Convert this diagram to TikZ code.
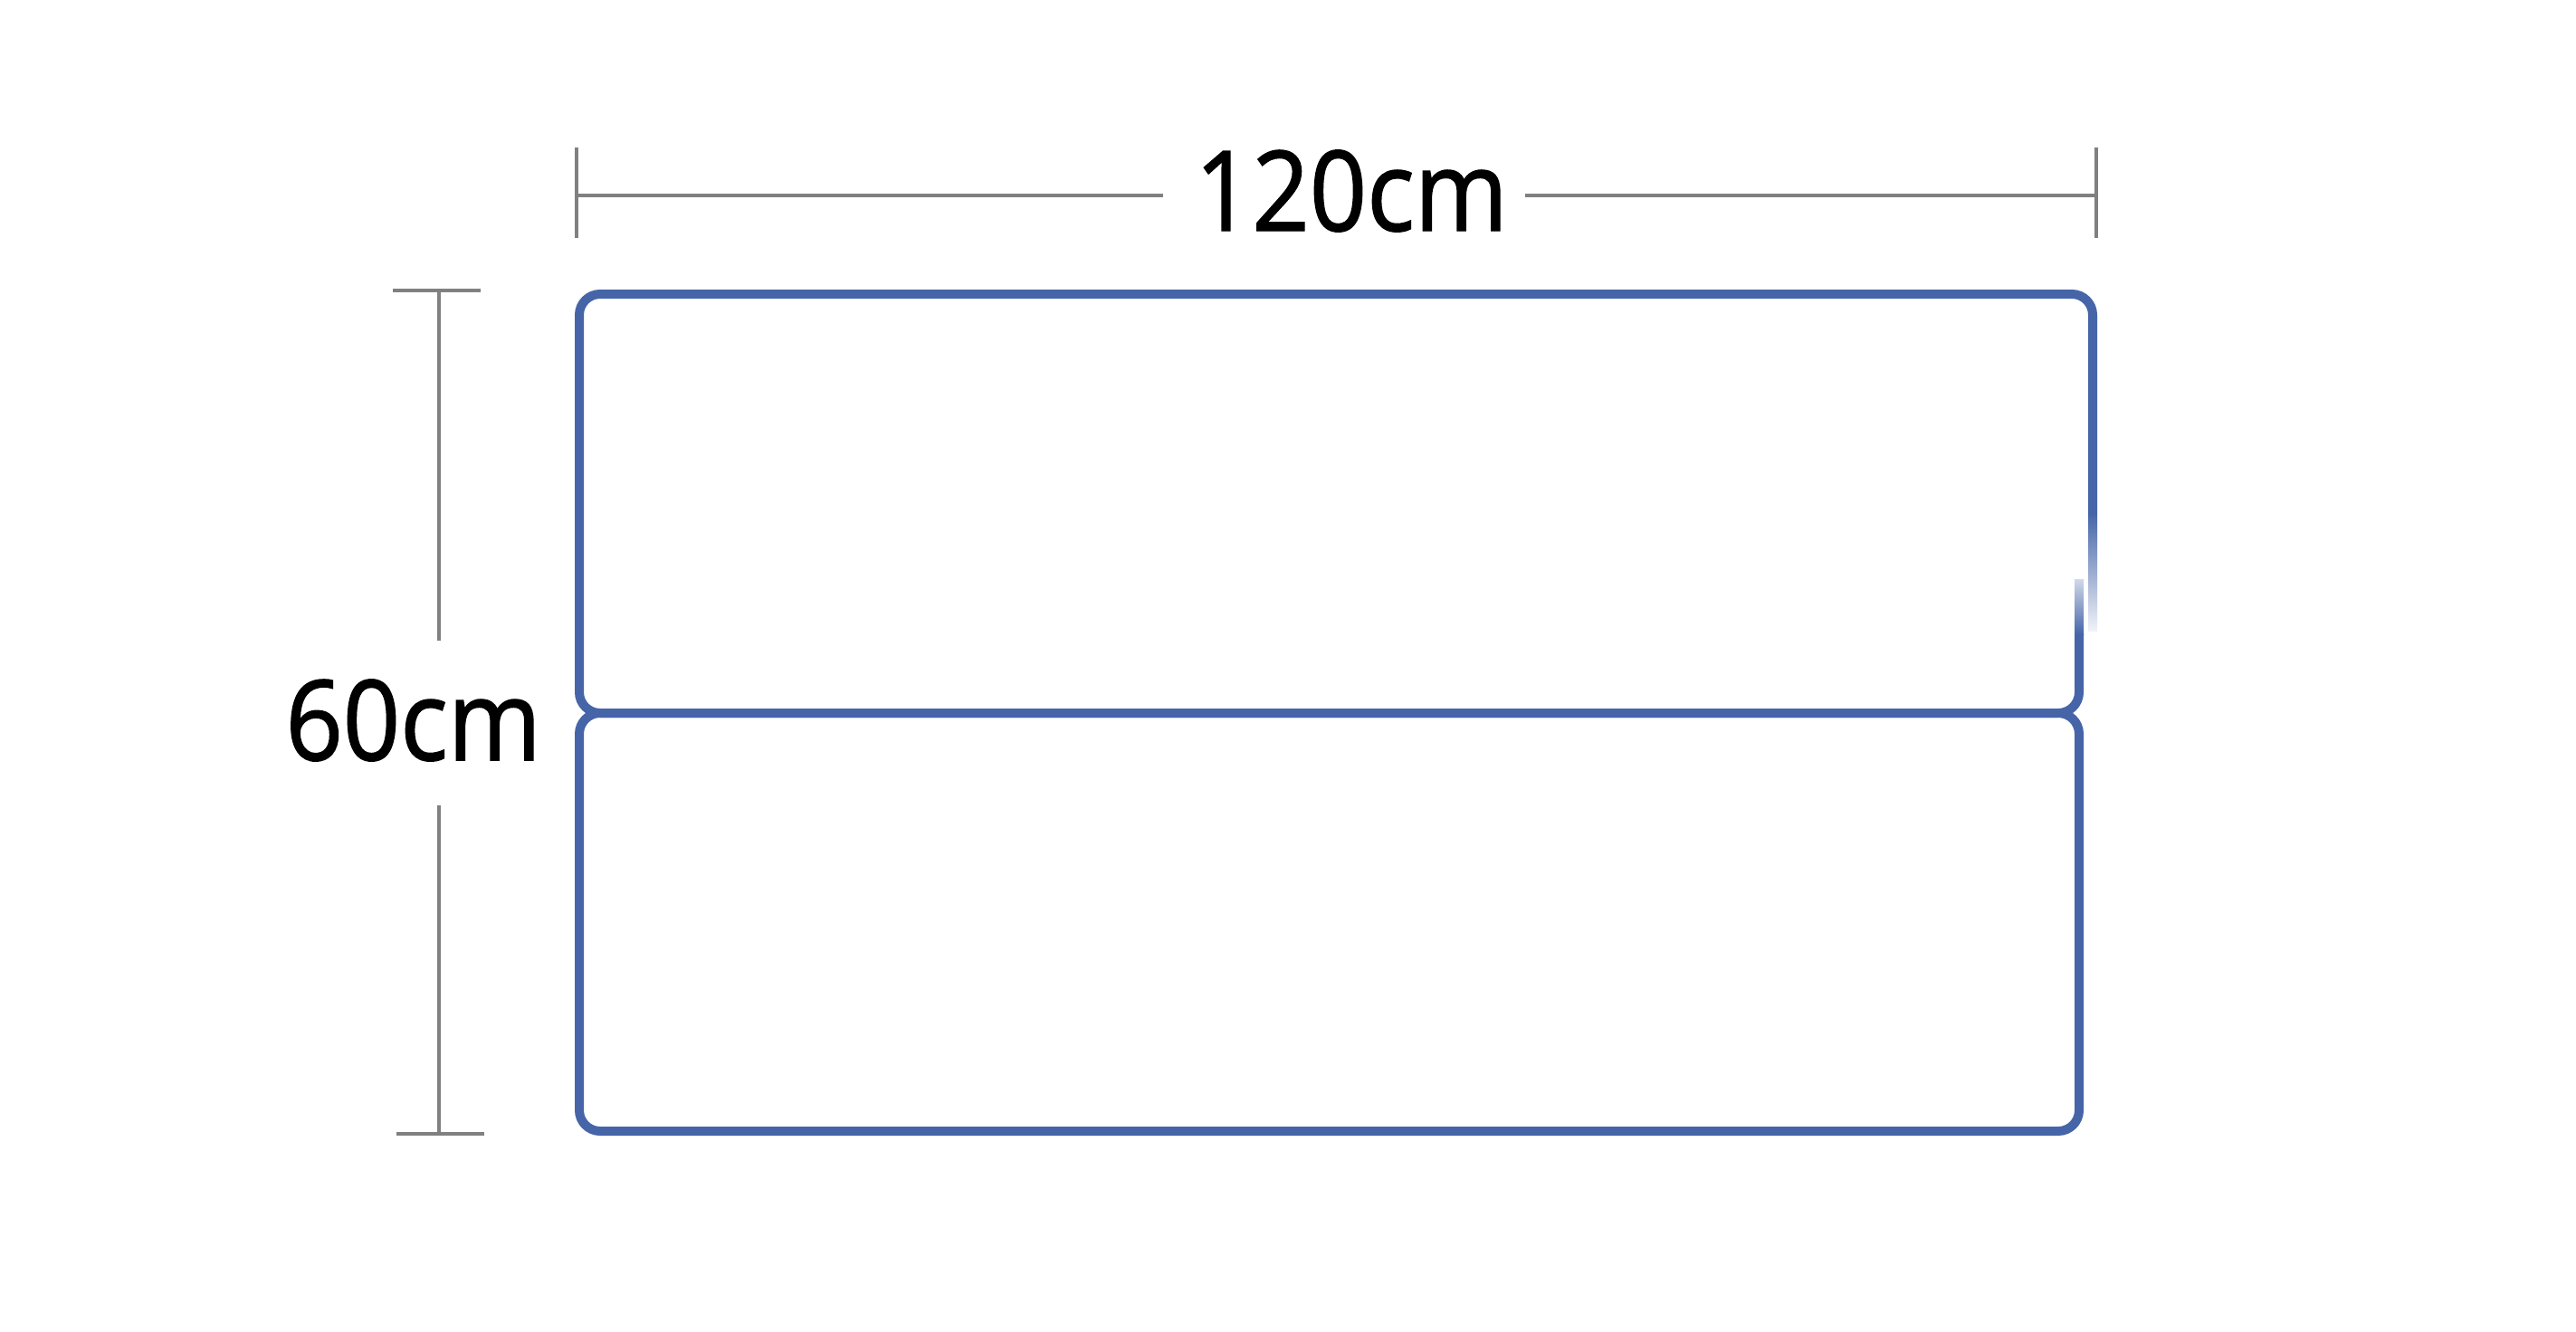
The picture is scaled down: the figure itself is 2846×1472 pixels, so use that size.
\documentclass[tikz,border=0pt]{standalone}
\usepackage{fontspec}
\setmainfont[FakeStretch=0.9,FakeBold=1.2]{Open Sans}
\definecolor{boxblue}{RGB}{70,101,168}
\definecolor{dimgray}{RGB}{128,128,128}
\begin{document}
\begin{tikzpicture}[x=1pt,y=-1pt,
  dimline/.style={draw=dimgray,line width=4.5pt},
  boxline/.style={draw=boxblue,line width=10pt,rounded corners=23pt},
  dimlabel/.style={font=\fontsize{123}{150}\selectfont,text=black,inner sep=0pt,anchor=base}]
\useasboundingbox[fill=white] (0,0) rectangle (2846,1472);
% horizontal dimension
\node[dimlabel] (w) at (1493,255) {120cm};
\coordinate (hl) at (637,216);
\coordinate (hr) at (2316,216);
\coordinate (hla) at (1285,216);
\coordinate (hrb) at (1685,216);
\draw[dimline] (hl) -- (hla);
\draw[dimline] (hrb) -- (hr);
\draw[dimline] (637,163) -- (637,263);
\draw[dimline] (2316,163) -- (2316,263);
% vertical dimension
\node[dimlabel,anchor=base east] (h) at (598,840) {60cm};
\coordinate (vt) at (485,321);
\coordinate (vta) at (485,708);
\coordinate (vbb) at (485,890);
\coordinate (vb) at (485,1253);
\draw[dimline] (vt) -- (vta);
\draw[dimline] (vbb) -- (vb);
\draw[dimline] (434,321) -- (531,321);
\draw[dimline] (438,1253) -- (535,1253);
% top box
\draw[boxline] (2312,567) -- (2312,325) -- (640,325) -- (640,788) -- (2297,788) -- (2297,700);
\shade[top color=boxblue,bottom color=boxblue!8] (2307,567) rectangle (2317,697);
\shade[top color=boxblue!25,bottom color=boxblue] (2292,640) rectangle (2302,701);
% bottom box
\draw[boxline] (640,788) rectangle (2297,1250);
\end{tikzpicture}
\end{document}
